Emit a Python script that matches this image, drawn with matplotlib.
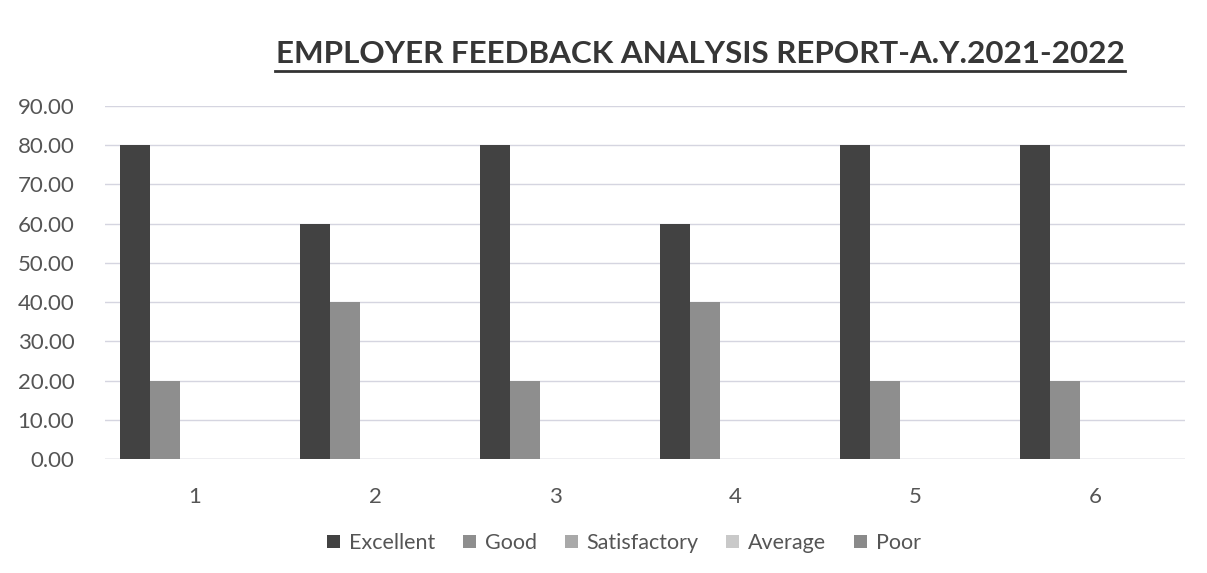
import matplotlib
matplotlib.use("Agg")
import matplotlib.pyplot as plt
import numpy as np

categories = ["1", "2", "3", "4", "5", "6"]
series_names = ["Excellent", "Good", "Satisfactory", "Average", "Poor"]
excellent = [80, 60, 80, 60, 80, 80]
good = [20, 40, 20, 40, 20, 20]
satisfactory = [0, 0, 0, 0, 0, 0]
average = [0, 0, 0, 0, 0, 0]
poor = [0, 0, 0, 0, 0, 0]
y_ticks = [0, 10, 20, 30, 40, 50, 60, 70, 80, 90]

colors = ["#424242", "#8e8e8e", "#a9a9a9", "#c9c9c9", "#8a8a8a"]

plt.rcParams['font.family'] = ['Lato', 'DejaVu Sans']
W, H = 1207, 573
fig = plt.figure(figsize=(W/100, H/100), dpi=100)
ax = fig.add_axes([105/W, 114/H, 1080/W, 353/H])

x = np.arange(len(categories))
data = [excellent, good, satisfactory, average, poor]
w = 1/6.0
for i, (name, vals, c) in enumerate(zip(series_names, data, colors)):
    ax.bar(x + (i - 2) * w, vals, width=w * 0.97, color=c, label=name, zorder=3)

ax.set_xlim(-0.5, len(categories) - 0.5)
ax.set_ylim(0, 90)
ax.set_yticks(y_ticks)
ax.set_yticklabels([f"{v:.2f}" for v in y_ticks], fontsize=16, color="#555555")
ax.set_xticks(x)
ax.set_xticklabels(categories, fontsize=16, color="#555555")
ax.tick_params(length=0)
ax.tick_params(axis='y', pad=22)
ax.tick_params(axis='x', pad=20)
ax.grid(axis='y', color="#d5d5e0", linewidth=1, zorder=0)
for s in ax.spines.values():
    s.set_visible(False)
ax.axhline(0, color="#cfcfd8", linewidth=1, zorder=2)

title = fig.text(700/W, 1 - 54/H, "EMPLOYER FEEDBACK ANALYSIS REPORT-A.Y.2021-2022",
                 ha="center", va="center", fontsize=22, fontweight="bold",
                 color="#363636")
fig.canvas.draw()
bb = title.get_window_extent()
title.set_fontsize(22 * 850 / bb.width)
fig.add_artist(plt.Line2D([275/W, 1125/W], [1 - 71/H, 1 - 71/H],
                          color="#333333", linewidth=2))

leg = fig.legend(loc="center", bbox_to_anchor=(624/W, 1 - 543/H), ncol=5,
                 frameon=False, fontsize=15.5, handlelength=0.6, handleheight=0.6,
                 handletextpad=0.4, columnspacing=1.3)
for t in leg.get_texts():
    t.set_color("#555555")

fig.savefig("out.png", dpi=100)
